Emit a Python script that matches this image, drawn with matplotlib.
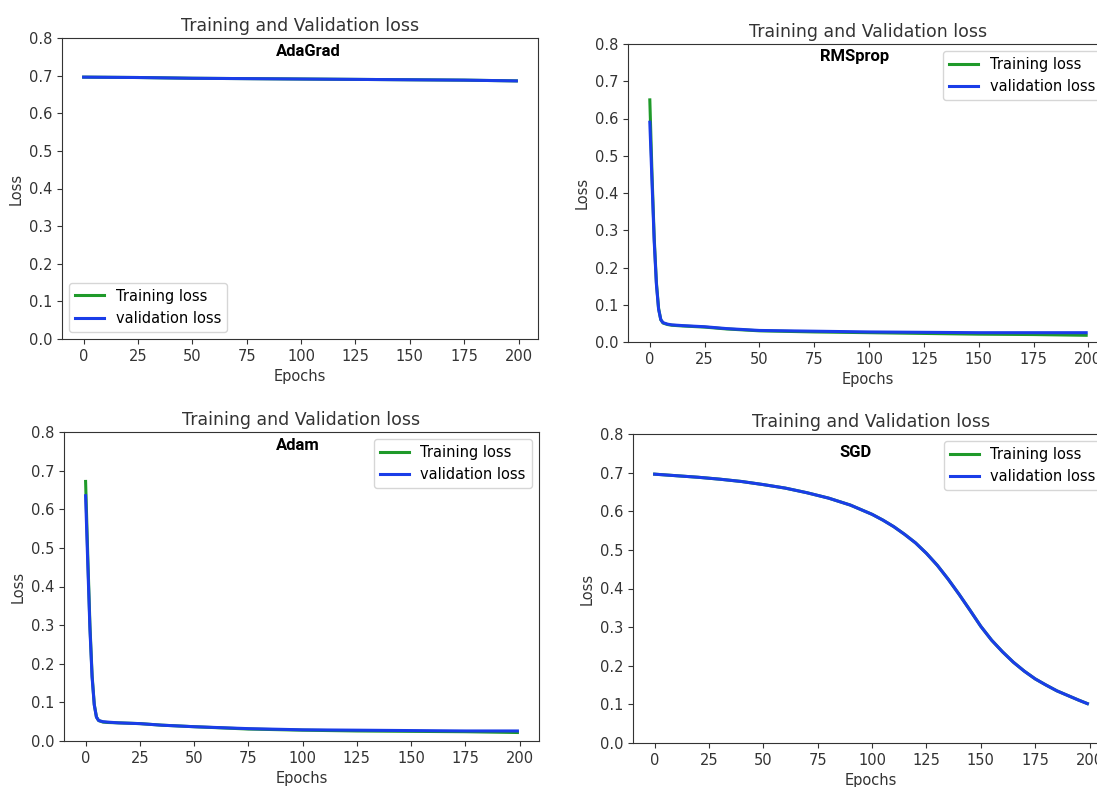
import matplotlib
matplotlib.use("Agg")
import matplotlib.pyplot as plt

# ---- data ----
ada_ep = [0, 25, 50, 75, 100, 125, 150, 175, 199]
ada_train = [0.696, 0.695, 0.693, 0.692, 0.691, 0.690, 0.689, 0.688, 0.686]
ada_val = [0.696, 0.695, 0.693, 0.692, 0.691, 0.690, 0.689, 0.688, 0.686]

rms_ep = [0, 1, 2, 3, 4, 5, 6, 8, 10, 15, 25, 35, 50, 75, 100, 125, 150, 175, 199]
rms_train = [0.650, 0.450, 0.280, 0.160, 0.090, 0.060, 0.051, 0.047, 0.045, 0.043, 0.040, 0.035, 0.030, 0.027, 0.025, 0.023, 0.021, 0.020, 0.018]
rms_val = [0.590, 0.430, 0.270, 0.155, 0.088, 0.060, 0.052, 0.048, 0.046, 0.044, 0.041, 0.036, 0.031, 0.029, 0.027, 0.026, 0.025, 0.025, 0.025]

adam_ep = [0, 1, 2, 3, 4, 5, 6, 8, 10, 15, 25, 35, 50, 75, 100, 125, 150, 175, 199]
adam_train = [0.672, 0.480, 0.300, 0.170, 0.095, 0.062, 0.053, 0.049, 0.048, 0.047, 0.045, 0.041, 0.037, 0.031, 0.028, 0.026, 0.025, 0.024, 0.022]
adam_val = [0.635, 0.460, 0.290, 0.165, 0.093, 0.062, 0.053, 0.050, 0.049, 0.047, 0.045, 0.041, 0.037, 0.032, 0.029, 0.028, 0.027, 0.026, 0.026]

sgd_ep = [0, 10, 20, 30, 40, 50, 60, 70, 80, 90, 100, 105, 110, 115, 120, 125, 130, 135, 140, 145,
          150, 155, 160, 165, 170, 175, 180, 185, 190, 195, 199]
sgd_train = [0.696, 0.692, 0.688, 0.683, 0.677, 0.669, 0.660, 0.648, 0.634, 0.616, 0.592, 0.577, 0.560, 0.540,
             0.518, 0.491, 0.460, 0.424, 0.385, 0.344, 0.302, 0.266, 0.236, 0.209, 0.186, 0.166, 0.150, 0.135,
             0.123, 0.111, 0.102]
sgd_val = list(sgd_train)

y_ticks = [0.0, 0.1, 0.2, 0.3, 0.4, 0.5, 0.6, 0.7, 0.8]
x_ticks = [0, 25, 50, 75, 100, 125, 150, 175, 200]

W, H = 1097, 787
fig = plt.figure(figsize=(W / 100, H / 100), dpi=100)


def box(left, top, right, bottom):
    return [left / W, 1 - bottom / H, (right - left) / W, (bottom - top) / H]


# name, data, axes box (pixels), legend place, name label position (pixels)
panels = [
    ("AdaGrad", ada_ep, ada_train, ada_val, box(62, 38, 538, 339), "lower left", (308, 52)),
    ("RMSprop", rms_ep, rms_train, rms_val, box(628, 44, 1108, 342), "upper right", (855, 56)),
    ("Adam", adam_ep, adam_train, adam_val, box(64, 432, 539, 741), "upper right", (298, 446)),
    ("SGD", sgd_ep, sgd_train, sgd_val, box(633, 434, 1109, 743), "upper right", (856, 452)),
]

for name, ep, tr, va, rect, loc, (lx, ly) in panels:
    ax = fig.add_axes(rect)
    ax.plot(ep, tr, color="#1f9a2a", lw=2.2, label="Training loss")
    ax.plot(ep, va, color="#1a3de8", lw=2.2, label="validation loss")
    ax.set_ylim(0, 0.8)
    ax.set_yticks(y_ticks)
    ax.set_xticks(x_ticks)
    ax.tick_params(labelsize=10.5, colors="#333333")
    ax.set_title("Training and Validation loss", fontsize=12.5, color="#333333", pad=5)
    ax.set_xlabel("Epochs", fontsize=10.5, color="#333333")
    ax.set_ylabel("Loss", fontsize=10.5, color="#333333")
    fig.text(lx / W, 1 - ly / H, name, ha="center", va="center",
             fontsize=12, fontweight="bold", family="Roboto")
    ax.legend(loc=loc, fontsize=10.5)
    for s in ax.spines.values():
        s.set_color("#333333")

fig.savefig("out.png", dpi=100)
